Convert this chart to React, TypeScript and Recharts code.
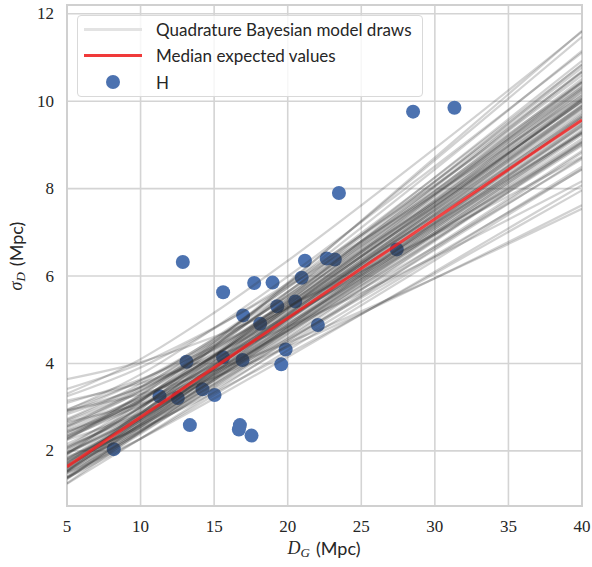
import React from "react";
import { ComposedChart, Line, Scatter, XAxis, YAxis, CartesianGrid, ReferenceArea, Legend } from "recharts";

const drawX = [5, 10, 15, 20, 30, 40];

// posterior draws (sigma_D at drawX)
const draws = [
  [1.53, 2.94, 4.38, 5.82, 8.71, 11.61],
  [3.31, 4.10, 5.16, 6.35, 8.92, 11.59],
  [3.64, 4.03, 4.61, 5.32, 6.95, 8.73],
  [2.66, 3.08, 3.68, 4.38, 5.95, 7.62],
  [1.26, 2.43, 3.62, 4.82, 7.21, 9.61],
  [1.68, 2.64, 3.72, 4.85, 7.15, 9.48],
  [1.60, 2.69, 3.88, 5.10, 7.57, 10.05],
  [1.98, 3.00, 4.18, 5.41, 7.94, 10.51],
  [2.11, 2.84, 3.76, 4.75, 6.84, 8.98],
  [1.40, 2.44, 3.54, 4.67, 6.95, 9.23],
  [1.62, 2.85, 4.15, 5.47, 8.15, 10.84],
  [2.44, 3.04, 3.84, 4.74, 6.67, 8.68],
  [2.35, 3.16, 4.18, 5.29, 7.62, 10.0],
  [1.41, 2.62, 3.87, 5.14, 7.67, 10.22],
  [1.77, 2.57, 3.52, 4.52, 6.60, 8.71],
  [2.26, 3.29, 4.50, 5.79, 8.44, 11.15],
  [2.84, 3.47, 4.32, 5.28, 7.37, 9.56],
  [1.92, 2.83, 3.90, 5.03, 7.35, 9.72],
  [1.51, 2.46, 3.52, 4.61, 6.82, 9.06],
  [2.71, 3.47, 4.45, 5.55, 7.87, 10.28],
  [1.87, 2.52, 3.33, 4.22, 6.06, 7.96],
  [1.72, 2.87, 4.12, 5.41, 8.03, 10.66],
  [1.37, 2.45, 3.59, 4.75, 7.08, 9.43],
  [3.10, 3.64, 4.39, 5.27, 7.21, 9.27],
  [1.79, 2.77, 3.90, 5.07, 7.46, 9.89],
  [2.25, 2.86, 3.67, 4.56, 6.47, 8.44],
  [1.93, 3.13, 4.47, 5.85, 8.65, 11.47],
  [1.97, 2.80, 3.80, 4.87, 7.08, 9.34],
  [3.42, 4.00, 4.82, 5.77, 7.88, 10.12],
  [2.29, 3.18, 4.27, 5.44, 7.88, 10.38],
  [1.38, 2.28, 3.28, 4.30, 6.36, 8.45],
  [2.93, 3.75, 4.81, 5.99, 8.51, 11.11],
  [2.49, 3.22, 4.16, 5.19, 7.39, 9.65],
  [1.35, 2.55, 3.78, 5.02, 7.52, 10.01],
  [1.49, 2.28, 3.20, 4.15, 6.10, 8.08],
  [1.53, 2.72, 3.98, 5.26, 7.84, 10.43],
  [2.56, 3.22, 4.08, 5.05, 7.13, 9.29],
  [1.56, 2.60, 3.74, 4.90, 7.27, 9.65],
  [1.52, 2.61, 3.78, 4.98, 7.40, 9.84],
  [2.91, 3.45, 4.21, 5.08, 6.99, 9.01],
  [3.15, 3.55, 4.14, 4.84, 6.44, 8.17],
  [1.66, 2.59, 3.65, 4.75, 7.00, 9.28],
  [1.82, 2.86, 4.04, 5.26, 7.76, 10.28],
  [1.25, 2.28, 3.35, 4.44, 6.63, 8.82],
  [2.57, 3.44, 4.54, 5.74, 8.25, 10.83],
  [2.95, 3.61, 4.50, 5.51, 7.69, 9.97],
  [2.03, 2.97, 4.08, 5.25, 7.67, 10.13],
  [1.67, 2.47, 3.41, 4.40, 6.43, 8.50],
  [2.93, 3.30, 3.84, 4.48, 5.95, 7.54],
  [1.49, 2.42, 3.45, 4.51, 6.68, 8.86],
  [1.96, 2.76, 3.73, 4.78, 6.94, 9.14],
  [2.31, 3.05, 3.99, 5.02, 7.18, 9.41],
  [1.54, 2.55, 3.66, 4.81, 7.12, 9.45],
  [2.16, 3.00, 4.02, 5.13, 7.42, 9.77],
  [1.94, 2.87, 3.97, 5.12, 7.50, 9.91],
  [1.73, 2.77, 3.94, 5.14, 7.60, 10.07],
  [1.62, 2.74, 3.95, 5.20, 7.71, 10.25],
  [2.39, 3.28, 4.38, 5.57, 8.05, 10.59],
  [1.93, 3.00, 4.21, 5.48, 8.07, 10.69],
  [2.46, 3.11, 3.97, 4.92, 6.96, 9.07],
  [1.38, 2.39, 3.47, 4.57, 6.80, 9.04],
  [1.81, 2.69, 3.72, 4.81, 7.04, 9.31],
  [2.07, 2.90, 3.91, 5.00, 7.25, 9.55],
  [1.39, 2.50, 3.67, 4.85, 7.23, 9.63],
  [2.61, 3.36, 4.34, 5.41, 7.70, 10.07],
  [1.54, 2.66, 3.86, 5.08, 7.55, 10.04],
  [2.05, 3.01, 4.15, 5.35, 7.82, 10.32],
  [1.70, 2.82, 4.05, 5.32, 7.88, 10.46],
  [1.83, 2.73, 3.79, 4.90, 7.19, 9.50],
  [2.42, 3.19, 4.17, 5.24, 7.50, 9.83],
  [1.59, 2.55, 3.62, 4.73, 6.99, 9.27],
  [1.65, 2.69, 3.84, 5.02, 7.43, 9.86],
  [2.27, 3.14, 4.20, 5.35, 7.74, 10.18],
  [1.72, 2.60, 3.62, 4.68, 6.87, 9.09],
  [1.77, 2.73, 3.83, 4.97, 7.32, 9.69],
  [2.73, 3.54, 4.58, 5.73, 8.16, 10.67],
  [2.88, 3.61, 4.56, 5.64, 7.94, 10.33],
  [2.54, 3.37, 4.41, 5.55, 7.96, 10.43],
  [2.35, 3.16, 4.18, 5.29, 7.62, 10.0],
  [2.32, 3.26, 4.41, 5.63, 8.17, 10.77],
  [2.68, 3.39, 4.33, 5.37, 7.59, 9.90],
  [2.09, 3.14, 4.35, 5.63, 8.26, 10.92],
  [3.25, 3.91, 4.80, 5.83, 8.08, 10.44],
];

// median expected values
const medianX = [5, 40];
const medianY = [1.64, 9.57];

// observed galaxies (H)
const hX = [8.18, 11.29, 12.53, 12.87, 13.12, 13.35, 14.21, 15.03, 15.61, 15.61, 16.68, 16.75, 16.93, 16.97, 17.54, 17.72,
  18.13, 18.97, 19.29, 19.56, 19.86, 20.51, 20.95, 21.17, 22.05, 22.65, 23.2, 23.48, 27.41, 28.52, 31.33];
const hY = [2.04, 3.25, 3.21, 6.32, 4.04, 2.59, 3.41, 3.28, 5.63, 4.14, 2.49, 2.59, 4.08, 5.1, 2.35, 5.84,
  4.91, 5.85, 5.31, 3.98, 4.32, 5.42, 5.96, 6.35, 4.88, 6.4, 6.38, 7.9, 6.61, 9.76, 9.85];

const xTicks = [5, 10, 15, 20, 25, 30, 35, 40];
const yTicks = [2, 4, 6, 8, 10, 12];

const serif = "'Liberation Serif', serif";
const sans = "Lato, sans-serif";
const ink = "#262626";
const blue = "#4c72b0";

const drawData = draws.map((row) => row.map((y, j) => ({ x: drawX[j], y })));
const medianData = medianX.map((x, i) => ({ x, y: medianY[i] }));
const hData = hX.map((x, i) => ({ x, y: hY[i] }));

/* eslint-disable @typescript-eslint/no-explicit-any */
function XTick({ x, y, payload }: any) {
  return <text x={x} y={y + 20} textAnchor="middle" dominantBaseline="central" fontFamily={serif} fontSize={17} fill={ink}>{payload.value}</text>;
}
function YTick({ x, y, payload }: any) {
  return <text x={x - 13} y={y} textAnchor="end" dominantBaseline="central" fontFamily={serif} fontSize={17} fill={ink}>{payload.value}</text>;
}
function Dot({ cx, cy }: any) {
  return <circle cx={cx} cy={cy} r={7} fill={blue} />;
}
/* eslint-enable @typescript-eslint/no-explicit-any */

function XLabel() {
  return (
    <text x={324} y={548} textAnchor="middle" dominantBaseline="central" fill={ink} fontSize={18}>
      <tspan fontFamily={serif} fontStyle="italic">D</tspan>
      <tspan fontFamily={serif} fontStyle="italic" fontSize={13} dy={4}>G</tspan>
      <tspan fontFamily={sans} dx={6} dy={-4}>(Mpc)</tspan>
    </text>
  );
}

function YLabel() {
  return (
    <text transform="translate(16,256) rotate(-90)" x={0} y={0} textAnchor="middle" dominantBaseline="central" fill={ink} fontSize={18}>
      <tspan fontFamily={serif} fontStyle="italic">σ</tspan>
      <tspan fontFamily={serif} fontStyle="italic" fontSize={13} dy={4}>D</tspan>
      <tspan fontFamily={sans} dx={6} dy={-4}>(Mpc)</tspan>
    </text>
  );
}

const rowStyle: React.CSSProperties = { position: "absolute", left: 0, height: 26, width: "100%", display: "flex", alignItems: "center" };
const textStyle: React.CSSProperties = { position: "absolute", left: 78, fontFamily: sans, fontSize: 17, color: ink, whiteSpace: "nowrap" };

function LegendBox() {
  return (
    <div style={{ position: "relative", width: 346, height: 82, boxSizing: "border-box", border: "1px solid #d9d9d9", borderRadius: 4, background: "rgba(255,255,255,0.8)" }}>
      <div style={{ ...rowStyle, top: 0 }}>
        <div style={{ position: "absolute", left: 6, width: 58, height: 3, background: "#e3e3e3" }} />
        <span style={textStyle}>Quadrature Bayesian model draws</span>
      </div>
      <div style={{ ...rowStyle, top: 26 }}>
        <div style={{ position: "absolute", left: 6, width: 58, height: 3, background: "#f03a3a" }} />
        <span style={textStyle}>Median expected values</span>
      </div>
      <div style={{ ...rowStyle, top: 53 }}>
        <div style={{ position: "absolute", left: 28, width: 14, height: 14, borderRadius: 7, background: blue }} />
        <span style={textStyle}>H</span>
      </div>
    </div>
  );
}

export default function App() {
  return (
    <div style={{ position: "absolute", left: 0, top: 0, width: 592, height: 567, background: "#fff" }}>
      <ComposedChart width={592} height={567} margin={{ top: 5, right: 10, bottom: 0, left: 0 }}>
        <CartesianGrid stroke="#d4d4d4" strokeWidth={1.6} />
        <XAxis type="number" dataKey="x" domain={[5, 40]} ticks={xTicks} allowDataOverflow height={61}
          axisLine={false} tickLine={false} tickSize={0} tickMargin={0} tick={<XTick />} label={<XLabel />} />
        <YAxis type="number" dataKey="y" domain={[0.74, 12.2]} ticks={yTicks} allowDataOverflow width={67}
          axisLine={false} tickLine={false} tickSize={0} tickMargin={0} tick={<YTick />} label={<YLabel />} />
        <Scatter data={hData} dataKey="y" fill={blue} shape={Dot} isAnimationActive={false} zIndex={100} />
        {drawData.map((d, i) => (
          <Line key={i} data={d} dataKey="y" type="monotone" stroke="#333333" strokeOpacity={0.22} strokeWidth={2.2}
            dot={false} activeDot={false} isAnimationActive={false} zIndex={700} />
        ))}
        <Line data={medianData} dataKey="y" type="linear" stroke="#ff2020" strokeOpacity={0.78} strokeWidth={3}
          dot={false} activeDot={false} isAnimationActive={false} zIndex={800} />
        <ReferenceArea x1={5} x2={40} y1={0.74} y2={12.2} fill="none" stroke="#d0d0d0" strokeWidth={2} ifOverflow="visible" />
        <Legend layout="horizontal" verticalAlign="middle" align="center" content={<LegendBox />}
          wrapperStyle={{ left: 77, top: 15, width: 346, height: 82 }} />
      </ComposedChart>
    </div>
  );
}
